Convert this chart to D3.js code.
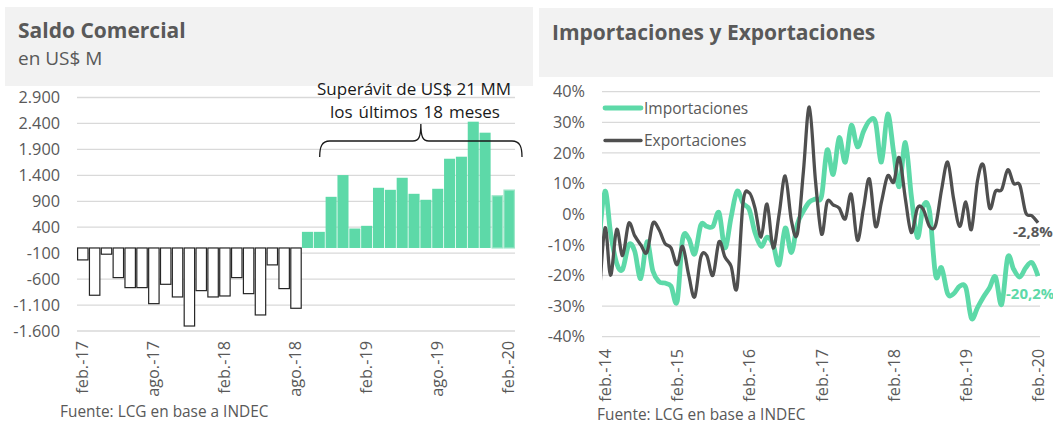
<!DOCTYPE html>
<html>
<head>
<meta charset="utf-8">
<title>Saldo comercial - Importaciones y Exportaciones</title>
<script src="https://cdn.jsdelivr.net/npm/d3@7"></script>
<style>
  body { margin: 0; background: #fff; }
  text { font-family: "Open Sans", sans-serif; fill: #595959; }
  .grid line { stroke: #d9d9d9; stroke-width: 1.3px; }
  .tick text { font-size: 16.3px; }
  .title { font-size: 21px; font-weight: 700; }
  .fuente { font-size: 15.4px; }
  .nota { font-size: 17px; fill: #1a1a1a; }
</style>
</head>
<body>
<script>
// ---- Saldo comercial (US$ M), feb-17 a feb-20
var saldo = [-230, -911, -120, -571, -764, -764, -1073, -700, -944, -1504,
  -822, -944, -925, -571, -880, -1291, -326, -783, -1162,
  311, 311, 986, 1405, 375, 427, 1160, 1121, 1353, 1044, 929,
  1141, 1720, 1759, 2434, 2222, 1006, 1116];
var saldoTicks = [-1600, -1100, -600, -100, 400, 900, 1400, 1900, 2400, 2900];

// ---- var. % interanual, ene-14 a feb-20
var importaciones = [-10, 7.5, -6, -16, -18, -10, -12, -21, -9, -18.5,
  -22, -22.5, -23.5, -28.5, -8, -8, -13, -3.5, -4, -4,
  0.5, -11, -1, 7.5, 3.5, 1.5, -6, -10.5, -7.5, -10,
  -16.5, -4.5, -12.5, -3.3, 1, 4, 5, 6, 21, 13,
  25, 17, 29, 22, 27, 30.5, 30, 17, 32.7, 20,
  9, 23.4, 6, -7.6, 2.7, 1, -20, -17.5, -26, -26,
  -23.5, -24, -34, -30.5, -27, -24, -20.5, -29.5, -14, -18,
  -20.5, -17.5, -15.8, -20.2];
var exportaciones = [-30, -4.5, -20, -5, -13.5, -3, -7, -10, -12.5, -3,
  -5, -9.5, -11, -16.5, -10.5, -20, -27, -14, -13.5, -20,
  -9, -14, -17, -24, 4, 7, 2, -7.5, 3.3, -11,
  0, 12.5, -2, -6.5, 14, 35, 11, -6.5, 4, 3,
  2, -1.5, 6.5, -8.5, 2, 11.5, -4, 4, 12.5, 10.5,
  18.5, 5, -6, 2, 1.5, -4, -3.5, 8, 17, 5,
  -4, 4, -5, 11, 16, 2, 7.5, 8, 14.5, 10,
  9.5, 0.5, -0.5, -2.8];
var pctTicks = [-40, -30, -20, -10, 0, 10, 20, 30, 40];

var verde = "#5dd9a8";
var gris = "#4f4f4f";

var loc = d3.formatLocale({decimal: ",", thousands: ".", grouping: [3], currency: ["$", ""], minus: "-"});
var fmtMil = loc.format(",d");
var fmtDec = loc.format(".1f");
var tloc = d3.timeFormatLocale({
  dateTime: "%x, %X", date: "%d/%m/%Y", time: "%H:%M:%S", periods: ["AM", "PM"],
  days: ["domingo", "lunes", "martes", "miércoles", "jueves", "viernes", "sábado"],
  shortDays: ["dom", "lun", "mar", "mié", "jue", "vie", "sáb"],
  months: ["enero", "febrero", "marzo", "abril", "mayo", "junio", "julio", "agosto", "septiembre", "octubre", "noviembre", "diciembre"],
  shortMonths: ["ene", "feb", "mar", "abr", "may", "jun", "jul", "ago", "sep", "oct", "nov", "dic"]
});
var fmtMes = tloc.format("%b.-%y");

var mesesSaldo = d3.timeMonth.range(new Date(2017, 1, 1), new Date(2020, 2, 1));
var mesesLinea = d3.timeMonth.range(new Date(2014, 0, 1), new Date(2020, 2, 1));

var svg = d3.select("body").append("svg")
  .attr("width", 1053)
  .attr("height", 424);

// ================= panel izquierdo =================
svg.append("rect").attr("x", 5).attr("y", 7).attr("width", 528).attr("height", 79).attr("fill", "#f2f2f2");
svg.append("text").attr("class", "title").attr("x", 18).attr("y", 38).text("Saldo Comercial");
svg.append("text").attr("x", 18).attr("y", 65).style("font-size", "19px").text("en US$ M");

var xBar = d3.scaleBand()
  .domain(mesesSaldo)
  .range([77, 515])
  .paddingInner(0.12)
  .paddingOuter(0.05);

var yBar = d3.scaleLinear()
  .domain([-1600, 2900])
  .range([331, 97.5]);

svg.append("g")
  .attr("class", "grid")
  .selectAll("line")
  .data(saldoTicks)
  .enter()
  .append("line")
  .attr("x1", 77).attr("x2", 515)
  .attr("y1", function(d) { return yBar(d); })
  .attr("y2", function(d) { return yBar(d); });

svg.append("g")
  .attr("transform", "translate(77,0)")
  .call(d3.axisLeft(yBar).tickValues(saldoTicks).tickFormat(fmtMil).tickSize(0).tickPadding(17))
  .call(function(g) { g.select(".domain").remove(); });

var barras = mesesSaldo.map(function(m, i) { return {mes: m, v: saldo[i], i: i}; });
var step = xBar.step();

svg.append("g").selectAll("rect")
  .data(barras)
  .enter()
  .append("rect")
  .attr("x", function(d) {
    if (d.v > 0 && d.i < 35) return xBar(d.mes) - step * 0.06;
    return xBar(d.mes);
  })
  .attr("width", function(d) {
    if (d.v > 0 && d.i < 35) return step - 0.8;
    return xBar.bandwidth();
  })
  .attr("y", function(d) { return yBar(Math.max(0, d.v)); })
  .attr("height", function(d) { return Math.abs(yBar(d.v) - yBar(0)); })
  .attr("fill", function(d) { return d.v < 0 ? "#fff" : verde; })
  .attr("stroke", function(d) {
    if (d.v < 0) return "#262626";
    if (d.i >= 35) return "#9fe6c9";
    return "none";
  })
  .attr("stroke-width", 1.2);

// etiquetas del eje x cada 6 meses
svg.append("g").selectAll("text")
  .data(mesesSaldo.filter(function(m, i) { return i % 6 == 0; }))
  .enter()
  .append("text")
  .attr("transform", function(d) {
    return "translate(" + (xBar(d) + xBar.bandwidth() / 2 + 5) + ",341) rotate(-90)";
  })
  .attr("text-anchor", "end")
  .style("font-size", "16.3px")
  .text(function(d) { return fmtMes(d); });

// llave + nota
var bx0 = xBar(mesesSaldo[20]) + xBar.bandwidth() / 2;
var bx1 = xBar.range()[1] + 7;
var bm = (bx0 + bx1) / 2;
svg.append("path")
  .attr("d", "M" + bx0 + ",157 C" + bx0 + ",147 " + (bx0 + 2) + ",141 " + (bx0 + 10) + ",141" +
    " L" + (bm - 8) + ",141 C" + (bm - 2) + ",141 " + bm + ",137 " + bm + ",124" +
    " C" + bm + ",137 " + (bm + 2) + ",141 " + (bm + 8) + ",141" +
    " L" + (bx1 - 10) + ",141 C" + (bx1 - 2) + ",141 " + bx1 + ",147 " + bx1 + ",157")
  .attr("fill", "none")
  .attr("stroke", "#1a1a1a")
  .attr("stroke-width", 1.3);
svg.append("text").attr("class", "nota").attr("x", 414).attr("y", 95).attr("text-anchor", "middle").text("Superávit de US$ 21 MM");
svg.append("text").attr("class", "nota").attr("x", 415).attr("y", 118).attr("text-anchor", "middle").style("word-spacing", "1.5px").text("los últimos 18 meses");

svg.append("text").attr("class", "fuente").attr("x", 60).attr("y", 417).text("Fuente: LCG en base a INDEC");

// ================= panel derecho =================
svg.append("rect").attr("x", 539).attr("y", 8).attr("width", 514).attr("height", 69).attr("fill", "#f2f2f2");
svg.append("text").attr("class", "title").attr("x", 552).attr("y", 40).text("Importaciones y Exportaciones");

var xLine = d3.scaleTime()
  .domain([new Date(2014, 1, 1), new Date(2020, 1, 1)])
  .range([605, 1038]);

var yLine = d3.scaleLinear()
  .domain([-40, 40])
  .range([336.7, 91.7]);

svg.append("g")
  .attr("class", "grid")
  .selectAll("line")
  .data(pctTicks)
  .enter()
  .append("line")
  .attr("x1", 602).attr("x2", 1040)
  .attr("y1", function(d) { return yLine(d); })
  .attr("y2", function(d) { return yLine(d); });

svg.append("g")
  .attr("transform", "translate(602,0)")
  .call(d3.axisLeft(yLine).tickValues(pctTicks).tickFormat(function(d) { return d + "%"; }).tickSize(0).tickPadding(17))
  .call(function(g) { g.select(".domain").remove(); });

svg.append("g").selectAll("text")
  .data(mesesLinea.filter(function(m) { return m.getMonth() == 1; }))
  .enter()
  .append("text")
  .attr("transform", function(d) { return "translate(" + (xLine(d) + 6) + ",349) rotate(-90)"; })
  .attr("text-anchor", "end")
  .style("font-size", "16.3px")
  .text(function(d) { return fmtMes(d); });

svg.append("clipPath").attr("id", "area")
  .append("rect").attr("x", 602).attr("y", 60).attr("width", 438).attr("height", 300);

var linea = d3.line()
  .x(function(d) { return xLine(d.mes); })
  .y(function(d) { return yLine(d.v); })
  .curve(d3.curveCatmullRom.alpha(0));

function serie(vals) {
  return mesesLinea.map(function(m, i) { return {mes: m, v: vals[i]}; });
}

svg.append("path")
  .datum(serie(importaciones))
  .attr("clip-path", "url(#area)")
  .attr("d", linea)
  .attr("fill", "none")
  .attr("stroke", verde)
  .attr("stroke-width", 4.8)
  .attr("stroke-linejoin", "round");

svg.append("path")
  .datum(serie(exportaciones))
  .attr("clip-path", "url(#area)")
  .attr("d", linea)
  .attr("fill", "none")
  .attr("stroke", gris)
  .attr("stroke-width", 3.3)
  .attr("stroke-linejoin", "round");

// leyenda
var leyenda = [{n: "Importaciones", c: verde, w: 4.8}, {n: "Exportaciones", c: gris, w: 3.3}];
leyenda.forEach(function(d, i) {
  var y = 108 + i * 32.5;
  svg.append("line").attr("x1", 605).attr("x2", 641).attr("y1", y).attr("y2", y)
    .attr("stroke", d.c).attr("stroke-width", d.w).attr("stroke-linecap", "round");
  svg.append("text").attr("x", 644).attr("y", y + 5.5).style("font-size", "15.5px").text(d.n);
});

// etiquetas del último dato
var ult = mesesLinea[mesesLinea.length - 1];
var uExp = exportaciones[exportaciones.length - 1];
var uImp = importaciones[importaciones.length - 1];
svg.append("text")
  .attr("x", xLine(ult) - 25).attr("y", yLine(uExp) + 14)
  .style("font-size", "15px").style("font-weight", 700)
  .text(fmtDec(uExp) + "%");
svg.append("text")
  .attr("x", xLine(ult) - 32).attr("y", yLine(uImp) + 23)
  .style("font-size", "15px").style("font-weight", 700).style("fill", verde)
  .text(fmtDec(uImp) + "%");

svg.append("text").attr("class", "fuente").attr("x", 597).attr("y", 420).text("Fuente: LCG en base a INDEC");
</script>
</body>
</html>
